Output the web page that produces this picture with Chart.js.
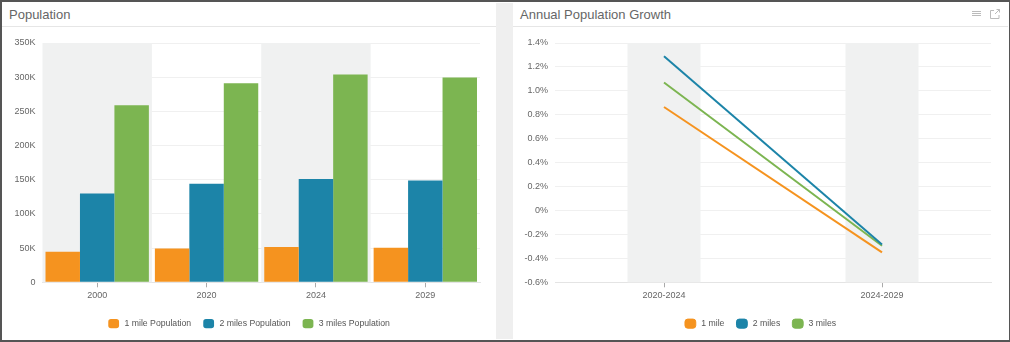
<!DOCTYPE html>
<html>
<head>
<meta charset="utf-8">
<script src="https://cdn.jsdelivr.net/npm/chart.js@4"></script>
<style>
  html, body { margin: 0; padding: 0; background: #fff; }
  body { width: 1010px; height: 342px; position: relative; overflow: hidden; font-family: "Liberation Sans", sans-serif; filter: blur(0.4px); }
  .frame { position: absolute; left: 0; top: 0; width: 1007px; height: 338px; border: 1px solid #555; border-width: 2px 1px 2px 2px; }
  .gutter { position: absolute; left: 496px; top: 3px; width: 17px; height: 336px; background: #efefef; }
  .title { position: absolute; top: 7px; font-size: 13px; color: #666; }
  .rule { position: absolute; top: 26px; height: 1px; background: #e6e6e6; }
  .holder { position: absolute; top: 27px; width: 494px; height: 311px; }
  .icons { position: absolute; left: 971px; top: 8px; }
</style>
</head>
<body>
<div class="gutter"></div>
<div class="title" style="left:9px">Population</div>
<div class="title" style="left:520px">Annual Population Growth</div>
<div class="rule" style="left:2px;width:494px"></div>
<div class="rule" style="left:513px;width:495px"></div>
<svg class="icons" width="30" height="12" fill="none" stroke="#bbb" stroke-width="1">
  <path d="M1 3.5H10M1 5.5H10M1 7.5H10" />
  <path d="M23 2.5H19.5V10.5H28V7M24 6L28.5 1.5M25.5 1.5H28.5V4.5" />
</svg>
<div class="holder" style="left:2px"><canvas id="popChart"></canvas></div>
<div class="holder" style="left:513px"><canvas id="growthChart"></canvas></div>
<div class="frame"></div>
<script>
const popYears = ["2000", "2020", "2024", "2029"];
const oneMilePop = [44500, 49500, 51500, 50500];
const twoMilesPop = [130000, 144000, 151000, 149000];
const threeMilesPop = [259000, 291000, 304000, 299500];

const growthPeriods = ["2020-2024", "2024-2029"];
const oneMileGrowth = [0.865, -0.35];
const twoMilesGrowth = [1.29, -0.285];
const threeMilesGrowth = [1.07, -0.295];

const ORANGE = "#f5931f";
const BLUE = "#1c84a8";
const GREEN = "#7cb551";
const TEXT = "#666";
const GRID = "#f0f0f0";
const BAND = "#f0f1f1";

Chart.defaults.font.family = '"Liberation Sans", sans-serif';
Chart.defaults.font.size = 9;
Chart.defaults.color = TEXT;
Chart.defaults.animation = false;
Chart.defaults.responsive = true;
Chart.defaults.maintainAspectRatio = false;

// grey bands behind the plot, placed from the category scale
function bandPlugin(bandShare, which) {
  return {
    id: "bands",
    beforeDatasetsDraw(chart) {
      const { ctx, chartArea, scales } = chart;
      const step = scales.x.width / scales.x.ticks.length;
      ctx.save();
      ctx.fillStyle = BAND;
      scales.x.ticks.forEach((t, i) => {
        if (!which(i)) return;
        const w = step * bandShare;
        ctx.fillRect(scales.x.getPixelForTick(i) - w / 2, chartArea.top, w, chartArea.height);
      });
      ctx.restore();
    }
  };
}

// legend is centred on the panel, not on the plot
function legendNudge(dx) {
  return {
    id: "legendNudge",
    afterLayout(chart) {
      chart.legend.left += dx;
      chart.legend.right += dx;
    }
  };
}

function legendOpts() {
  return {
    position: "bottom",
    labels: { usePointStyle: true, pointStyle: "rectRounded", pointStyleWidth: 13, boxHeight: 7.5, color: "#555", padding: 11, font: { size: 8.7 } }
  };
}

function xAxis() {
  return {
    afterFit(s) { s.height = 26; },
    border: { color: "#e4e4e4" },
    grid: { drawOnChartArea: false, tickLength: 5, color: "#aaa", offset: false, tickWidth: 1 },
    ticks: { padding: 3, maxRotation: 0, color: TEXT }
  };
}

new Chart(document.getElementById("popChart"), {
  type: "bar",
  data: {
    labels: popYears,
    datasets: [
      { label: "1 mile Population", data: oneMilePop, backgroundColor: ORANGE },
      { label: "2 miles Population", data: twoMilesPop, backgroundColor: BLUE },
      { label: "3 miles Population", data: threeMilesPop, backgroundColor: GREEN }
    ]
  },
  options: {
    layout: { padding: { top: 16, right: 16 } },
    categoryPercentage: 0.945,
    barPercentage: 1,
    scales: {
      x: xAxis(),
      y: {
        min: 0, max: 350000,
        afterFit(s) { s.width = 40.5; },
        border: { display: false },
        grid: { color: GRID, drawTicks: false },
        ticks: {
          stepSize: 50000, padding: 7,
          callback: v => v === 0 ? "0" : (v / 1000) + "K"
        }
      }
    },
    plugins: { legend: legendOpts(), tooltip: { enabled: false } }
  },
  plugins: [bandPlugin(1, i => i % 2 === 0), legendNudge(7.5)]
});

new Chart(document.getElementById("growthChart"), {
  type: "line",
  data: {
    labels: growthPeriods,
    datasets: [
      { label: "1 mile", data: oneMileGrowth, borderColor: ORANGE, backgroundColor: ORANGE },
      { label: "2 miles", data: twoMilesGrowth, borderColor: BLUE, backgroundColor: BLUE },
      { label: "3 miles", data: threeMilesGrowth, borderColor: GREEN, backgroundColor: GREEN }
    ]
  },
  options: {
    layout: { padding: { top: 16, right: 16 } },
    elements: { point: { radius: 0 }, line: { borderWidth: 2, tension: 0 } },
    scales: {
      x: { ...xAxis(), offset: true },
      y: {
        min: -0.6, max: 1.4,
        afterFit(s) { s.width = 42; },
        border: { display: false },
        grid: { color: GRID, drawTicks: false },
        ticks: {
          stepSize: 0.2, padding: 7,
          callback: v => Math.abs(v) < 1e-9 ? "0%" : v.toFixed(1) + "%"
        }
      }
    },
    plugins: { legend: legendOpts(), tooltip: { enabled: false } }
  },
  plugins: [bandPlugin(0.335, () => true), legendNudge(8)]
});
</script>
</body>
</html>
